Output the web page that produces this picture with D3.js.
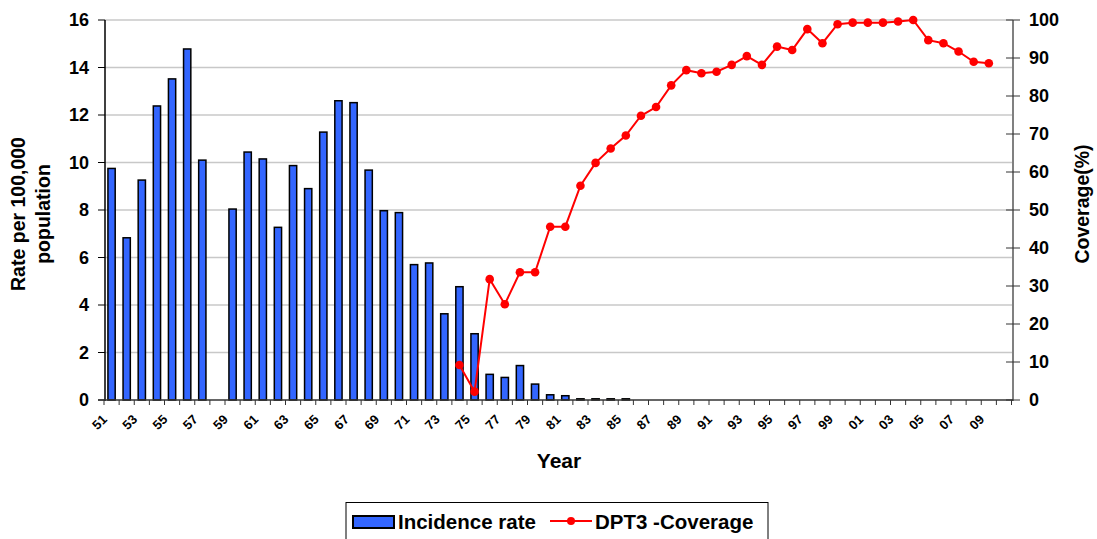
<!DOCTYPE html>
<html><head><meta charset="utf-8">
<script src="https://cdn.jsdelivr.net/npm/d3@7"></script>
<style>
html,body{margin:0;padding:0;background:#fff;}
text{font-family:"Liberation Sans",Arial,sans-serif;font-weight:bold;fill:#000;}
</style></head>
<body><svg id="chart" width="1097" height="539"></svg>
<script>
const years = ["1951","1952","1953","1954","1955","1956","1957","1958","1959","1960",
"1961","1962","1963","1964","1965","1966","1967","1968","1969","1970",
"1971","1972","1973","1974","1975","1976","1977","1978","1979","1980",
"1981","1982","1983","1984","1985","1986","1987","1988","1989","1990",
"1991","1992","1993","1994","1995","1996","1997","1998","1999","2000",
"2001","2002","2003","2004","2005","2006","2007","2008","2009","2010"];

const incidence = [9.75,6.83,9.26,12.38,13.52,14.78,10.1,null,8.04,10.44,
10.15,7.27,9.87,8.9,11.28,12.6,12.52,9.68,7.97,7.89,
5.70,5.77,3.63,4.77,2.79,1.08,0.95,1.45,0.67,0.22,
0.18,0.05,0.05,0.05,0.05,null,null,null,null,null,
null,null,null,null,null,null,null,null,null,null,
null,null,null,null,null,null,null,null,null,null];

const coverage = [null,null,null,null,null,null,null,null,null,null,
null,null,null,null,null,null,null,null,null,null,
null,null,null,9.2,2.2,31.8,25.2,33.6,33.6,45.6,
45.6,56.4,62.4,66.2,69.6,74.8,77.1,82.8,86.8,86.0,
86.4,88.2,90.5,88.2,93.0,92.1,97.6,93.9,98.9,99.3,
99.3,99.3,99.6,100,94.7,93.9,91.7,89.0,88.6,null];

const xTickLabels = ["51","53","55","57","59","61","63","65","67","69","71","73","75","77","79",
"81","83","85","87","89","91","93","95","97","99","01","03","05","07","09"];
const xTickYears = ["1951","1953","1955","1957","1959","1961","1963","1965","1967","1969","1971","1973","1975","1977","1979",
"1981","1983","1985","1987","1989","1991","1993","1995","1997","1999","2001","2003","2005","2007","2009"];
const leftTicks = [0,2,4,6,8,10,12,14,16];
const rightTicks = [0,10,20,30,40,50,60,70,80,90,100];

const svg = d3.select("#chart");
const L = 105, R = 1013, T = 20, B = 400;

const x = d3.scaleBand().domain(years).range([104, 1011.5]).paddingInner(0.52).paddingOuter(0.26);
const yL = d3.scaleLinear().domain([0,16]).range([B,T]);
const yR = d3.scaleLinear().domain([0,100]).range([B,T]);
const step = x.step();
const cx = d => x(d) + x.bandwidth()/2;

// gridlines
svg.append("g").selectAll("line").data(leftTicks.filter(t=>t>0)).join("line")
  .attr("x1",L).attr("x2",R).attr("y1",d=>yL(d)).attr("y2",d=>yL(d))
  .attr("stroke","#c8c8c8").attr("stroke-width",1.3);

// bars
svg.append("g").selectAll("rect").data(years.map((y,i)=>({y,v:incidence[i]})).filter(d=>d.v!=null)).join("rect")
  .attr("x",d=>x(d.y)).attr("width",x.bandwidth())
  .attr("y",d=>yL(d.v)).attr("height",d=>B-yL(d.v))
  .attr("fill","#3366ff").attr("stroke","#000").attr("stroke-width",1.5);

// left axis
const gl = svg.append("g");
gl.append("line").attr("x1",L).attr("x2",L).attr("y1",T).attr("y2",B+1).attr("stroke","#000").attr("stroke-width",1.5);
gl.selectAll("line.t").data(leftTicks).join("line").attr("class","t")
  .attr("x1",L-7).attr("x2",L).attr("y1",d=>yL(d)).attr("y2",d=>yL(d)).attr("stroke","#000").attr("stroke-width",1);
gl.selectAll("text").data(leftTicks).join("text")
  .attr("x",89).attr("y",d=>yL(d)).attr("dy","0.36em").attr("text-anchor","end")
  .style("font-size","18px").text(d=>d);

// right axis
const gr = svg.append("g");
gr.append("line").attr("x1",R).attr("x2",R).attr("y1",T).attr("y2",B+1).attr("stroke","#808080").attr("stroke-width",2);
gr.selectAll("line.t").data(rightTicks).join("line").attr("class","t")
  .attr("x1",R-7).attr("x2",R+7).attr("y1",d=>yR(d)).attr("y2",d=>yR(d)).attr("stroke","#333").attr("stroke-width",1);
gr.selectAll("text").data(rightTicks).join("text")
  .attr("x",1029).attr("y",d=>yR(d)).attr("dy","0.36em").attr("text-anchor","start")
  .style("font-size","18px").text(d=>d);

// x axis
const gx = svg.append("g");
gx.append("line").attr("x1",L-7).attr("x2",R).attr("y1",B).attr("y2",B).attr("stroke","#333").attr("stroke-width",1.5);
const bounds = years.map(d=>cx(d)-step/2).concat([cx(years[years.length-1])+step/2]);
gx.selectAll("line.t").data(bounds).join("line").attr("class","t")
  .attr("x1",d=>d).attr("x2",d=>d).attr("y1",B).attr("y2",B+5).attr("stroke","#333").attr("stroke-width",1);
gx.selectAll("text").data(xTickYears).join("text")
  .attr("transform",(d)=>`translate(${cx(d)-7},${B+17}) rotate(-45)`)
  .attr("text-anchor","end").attr("dy","0.35em")
  .style("font-size","13px").text((d,i)=>xTickLabels[i]);

// coverage line
const pts = years.map((y,i)=>({y,v:coverage[i]})).filter(d=>d.v!=null);
svg.append("path").datum(pts)
  .attr("d", d3.line().x(d=>cx(d.y)).y(d=>yR(d.v)))
  .attr("fill","none").attr("stroke","#ff0000").attr("stroke-width",2);
svg.append("g").selectAll("circle").data(pts).join("circle")
  .attr("cx",d=>cx(d.y)).attr("cy",d=>yR(d.v)).attr("r",4.3).attr("fill","#ff0000");

// axis titles
svg.append("text").attr("transform","translate(25,214) rotate(-90)").attr("text-anchor","middle")
  .style("font-size","19.5px").text("Rate per 100,000");
svg.append("text").attr("transform","translate(50,214) rotate(-90)").attr("text-anchor","middle")
  .style("font-size","19.5px").text("population");
svg.append("text").attr("transform","translate(1089,204) rotate(-90)").attr("text-anchor","middle")
  .style("font-size","19.5px").text("Coverage(%)");
svg.append("text").attr("x",559).attr("y",468).attr("text-anchor","middle")
  .style("font-size","21px").text("Year");

// legend
const lg = svg.append("g");
lg.append("rect").attr("x",346).attr("y",502.5).attr("width",422).attr("height",40)
  .attr("fill","#fff").attr("stroke","#000").attr("stroke-width",1);
lg.append("rect").attr("x",353).attr("y",516).attr("width",41).attr("height",12)
  .attr("fill","#3366ff").attr("stroke","#000").attr("stroke-width",2);
lg.append("text").attr("x",398).attr("y",529).style("font-size","20.5px").text("Incidence rate");
lg.append("line").attr("x1",550).attr("x2",592).attr("y1",521).attr("y2",521).attr("stroke","#ff0000").attr("stroke-width",2);
lg.append("circle").attr("cx",571).attr("cy",521).attr("r",4).attr("fill","#ff0000");
lg.append("text").attr("x",595).attr("y",529).style("font-size","20.5px").text("DPT3 -Coverage");
</script></body></html>
